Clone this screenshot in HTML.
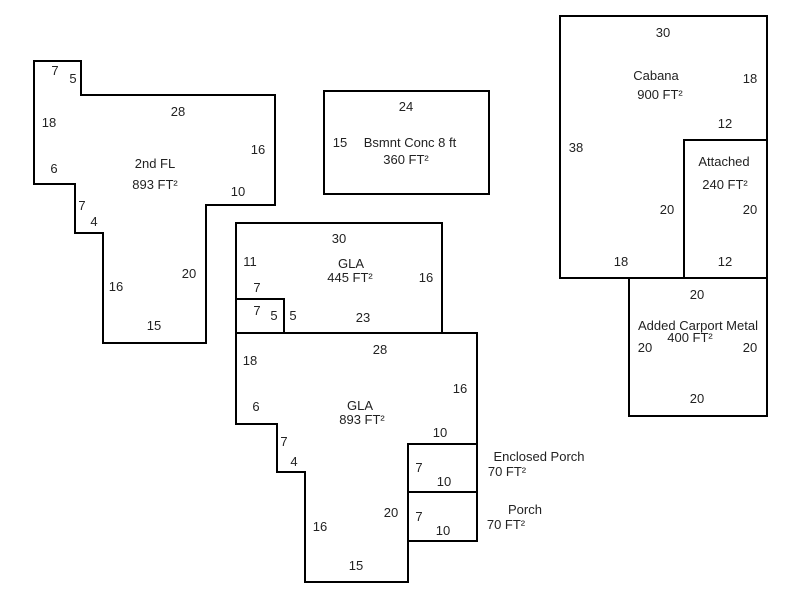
<!DOCTYPE html>
<html><head><style>body{margin:0;background:#fff}svg{display:block}text{font-family:"Liberation Sans",Arial,sans-serif;font-size:13px;fill:#222;text-anchor:middle}</style></head><body>
<svg width="800" height="600" viewBox="0 0 800 600" xmlns="http://www.w3.org/2000/svg">
<g fill="none" stroke="#000" stroke-width="2">
<polygon points="34,61 81,61 81,95 275,95 275,205 206,205 206,343 103,343 103,233 75,233 75,184 34,184"/>
<rect x="324" y="91" width="165" height="103"/>
<rect x="236" y="223" width="206" height="110"/>
<polyline points="236,299 284,299 284,333 477,333 477,541 408,541"/>
<polyline points="236,299 236,424 277,424 277,472 305,472 305,582 408,582 408,444 477,444"/>
<line x1="408" y1="492" x2="477" y2="492"/>
<rect x="560" y="16" width="207" height="262"/>
<rect x="684" y="140" width="83" height="138"/>
<rect x="629" y="278" width="138" height="138"/>
</g>
<g>
<text x="55" y="75">7</text><text x="73" y="83">5</text><text x="178" y="116">28</text><text x="49" y="127">18</text>
<text x="258" y="154">16</text><text x="54" y="173">6</text><text x="155" y="168">2nd FL</text><text x="155" y="189">893 FT²</text>
<text x="238" y="196">10</text><text x="82" y="210">7</text><text x="94" y="226">4</text><text x="189" y="278">20</text>
<text x="116" y="291">16</text><text x="154" y="330">15</text>
<text x="406" y="111">24</text><text x="340" y="147">15</text><text x="410" y="147">Bsmnt Conc 8 ft</text><text x="406" y="164">360 FT²</text>
<text x="339" y="243">30</text><text x="250" y="266">11</text><text x="351" y="268">GLA</text><text x="350" y="282">445 FT²</text><text x="426" y="282">16</text>
<text x="257" y="292">7</text><text x="257" y="315">7</text><text x="274" y="320">5</text><text x="293" y="320">5</text><text x="363" y="322">23</text>
<text x="380" y="354">28</text><text x="250" y="365">18</text><text x="460" y="393">16</text><text x="256" y="411">6</text>
<text x="360" y="410">GLA</text><text x="362" y="424">893 FT²</text><text x="440" y="437">10</text><text x="284" y="446">7</text><text x="294" y="466">4</text>
<text x="539" y="461">Enclosed Porch</text><text x="507" y="476">70 FT²</text><text x="419" y="472">7</text><text x="444" y="486">10</text>
<text x="391" y="517">20</text><text x="419" y="521">7</text><text x="525" y="514">Porch</text><text x="506" y="529">70 FT²</text><text x="443" y="535">10</text>
<text x="320" y="531">16</text><text x="356" y="570">15</text>
<text x="663" y="37">30</text><text x="656" y="80">Cabana</text><text x="750" y="83">18</text><text x="660" y="99">900 FT²</text>
<text x="725" y="128">12</text><text x="576" y="152">38</text><text x="724" y="166">Attached</text><text x="725" y="189">240 FT²</text>
<text x="667" y="214">20</text><text x="750" y="214">20</text><text x="621" y="266">18</text><text x="725" y="266">12</text>
<text x="697" y="299">20</text><text x="698" y="330">Added Carport Metal</text><text x="690" y="342">400 FT²</text>
<text x="645" y="352">20</text><text x="750" y="352">20</text><text x="697" y="403">20</text>
</g>
</svg>
</body></html>
